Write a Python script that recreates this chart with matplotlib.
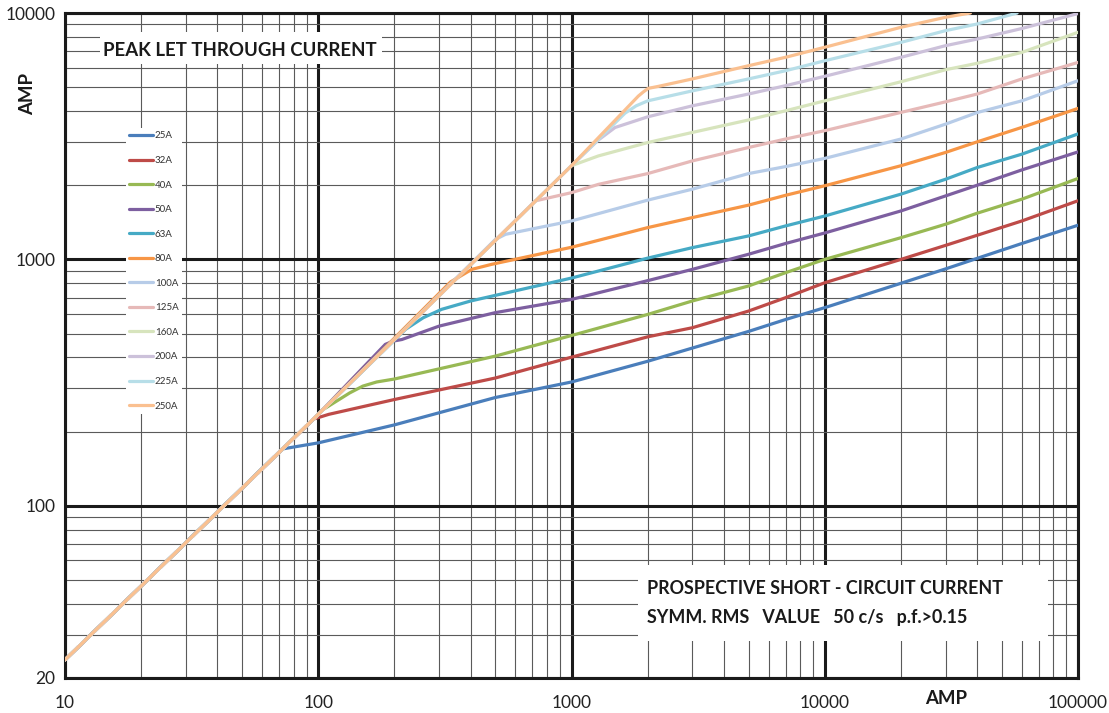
import matplotlib
matplotlib.use('Agg')
import matplotlib.pyplot as plt
from matplotlib.patches import Rectangle
from matplotlib.ticker import LogLocator, NullFormatter

plt.rcParams['font.family'] = ['Lato', 'DejaVu Sans']

W, H = 1109, 713

RATINGS = ['25A', '32A', '40A', '50A', '63A', '80A',
           '100A', '125A', '160A', '200A', '225A', '250A']
COLOURS = ['#4A7EBB', '#BE4B48', '#98B954', '#7D5FA0', '#46AAC5', '#F79646',
           '#B7CCE8', '#E6B9B8', '#D7E4BD', '#CCC1DA', '#B7DEE8', '#FAC090']

# common line every fuse follows until it starts limiting
ENV_X = [10, 100, 1000, 1836]
ENV_Y = [23.7, 235, 2400, 4600]

# each fuse from its cut-off point on
A25_X = [72, 85, 100, 200, 500, 1000, 2000, 5000, 7000, 10000, 20000, 30000, 40000, 60000, 100000]
A25_Y = [170, 175, 180, 213, 275, 318, 386, 510, 570, 637, 800, 915, 1010, 1160, 1376]

A32_X = [96, 110, 200, 500, 1000, 2000, 3000, 5000, 7000, 10000, 20000, 30000, 40000, 60000, 100000]
A32_Y = [225, 235, 270, 330, 401, 485, 528, 617, 699, 804, 1000, 1140, 1253, 1432, 1730]

A40_X = [104, 133, 150, 170, 200, 500, 1000, 2000, 3000, 5000, 7000, 10000, 20000, 30000, 40000, 60000, 100000]
A40_Y = [245, 287, 306, 318, 327, 405, 491, 598, 678, 780, 883, 1000, 1225, 1389, 1540, 1755, 2130]

A50_X = [184, 198, 214, 300, 500, 1000, 2000, 3000, 5000, 7000, 10000, 20000, 30000, 40000, 60000, 100000]
A50_Y = [452, 466, 473, 536, 608, 688, 820, 911, 1049, 1160, 1280, 1573, 1810, 2000, 2307, 2730]

A63_X = [221, 260, 307, 400, 1000, 2000, 3000, 5000, 7000, 10000, 20000, 30000, 40000, 60000, 100000]
A63_Y = [520, 580, 627, 678, 840, 1012, 1116, 1245, 1367, 1500, 1840, 2115, 2360, 2673, 3230]

A80_X = [333, 404, 484, 1000, 2000, 3000, 5000, 7000, 10000, 20000, 30000, 40000, 60000, 100000]
A80_Y = [810, 911, 955, 1120, 1346, 1478, 1660, 1820, 1990, 2400, 2717, 3000, 3433, 4100]

A100_X = [501, 549, 1000, 2000, 3000, 5000, 7000, 10000, 20000, 30000, 40000, 60000, 100000]
A100_Y = [1206, 1264, 1432, 1740, 1927, 2230, 2380, 2570, 3080, 3540, 3945, 4400, 5310]

A125_X = [719, 1000, 1277, 2000, 3000, 5000, 7000, 10000, 20000, 30000, 40000, 60000, 100000]
A125_Y = [1727, 1866, 2016, 2230, 2510, 2845, 3080, 3330, 3950, 4360, 4690, 5400, 6300]

A160_X = [1000, 1277, 2000, 3000, 5000, 7000, 10000, 20000, 30000, 40000, 60000, 100000]
A160_Y = [2400, 2630, 2980, 3275, 3680, 4010, 4400, 5260, 5885, 6250, 6920, 8350]

A200_X = [1276, 1486, 2000, 3000, 5000, 7000, 10000, 20000, 30000, 40000, 60000, 100000]
A200_Y = [3050, 3430, 3790, 4200, 4690, 5070, 5535, 6610, 7370, 7840, 8650, 9950]

A225_X = [1626, 1800, 2000, 3000, 5000, 7000, 10000, 20000, 30000, 40000, 57500]
A225_Y = [3920, 4200, 4400, 4830, 5400, 5830, 6400, 7600, 8480, 9025, 10000]

A250_X = [1920, 2010, 2200, 3000, 5000, 7000, 10000, 20000, 30000, 37600]
A250_Y = [4780, 4945, 5036, 5400, 6110, 6610, 7260, 8750, 9610, 10000]

TAILS = [(A25_X, A25_Y), (A32_X, A32_Y), (A40_X, A40_Y), (A50_X, A50_Y),
         (A63_X, A63_Y), (A80_X, A80_Y), (A100_X, A100_Y), (A125_X, A125_Y),
         (A160_X, A160_Y), (A200_X, A200_Y), (A225_X, A225_Y), (A250_X, A250_Y)]

X_TICKS = [10, 100, 1000, 10000, 100000]
Y_TICKS = [20, 100, 1000, 10000]


def px(x, y):
    # pixel position (from top-left) -> figure fraction
    return x / W, 1 - y / H


fig = plt.figure(figsize=(W / 100, H / 100), dpi=100)
ax = fig.add_axes([65 / W, 35 / H, (1078 - 65) / W, (678 - 13) / H])
ax.set_xscale('log')
ax.set_yscale('log')
ax.set_xlim(10, 100000)
ax.set_ylim(20, 10000)

for (tx, ty), name, c in zip(TAILS, RATINGS, COLOURS):
    xs = [x for x in ENV_X if x < tx[0]] + list(tx)
    ys = [y for x, y in zip(ENV_X, ENV_Y) if x < tx[0]] + list(ty)
    ax.plot(xs, ys, color=c, lw=2.3, label=name, zorder=3,
            solid_joinstyle='round', solid_capstyle='round')

ax.set_xticks(X_TICKS, [str(v) for v in X_TICKS])
ax.set_yticks(Y_TICKS, [str(v) for v in Y_TICKS])
ax.xaxis.set_minor_locator(LogLocator(subs=range(2, 10), numticks=20))
ax.yaxis.set_minor_locator(LogLocator(subs=range(2, 10), numticks=20))
ax.xaxis.set_minor_formatter(NullFormatter())
ax.yaxis.set_minor_formatter(NullFormatter())
ax.tick_params(which='both', length=0)
ax.tick_params(axis='x', pad=12.5, labelsize=12.5, colors='#222222')
ax.tick_params(axis='y', pad=7, labelsize=12.5, colors='#222222')

ax.grid(which='minor', color='#5a5a5a', lw=0.8)
ax.grid(which='major', color='#1a1a1a', lw=2.2)
ax.set_axisbelow(True)
for s in ax.spines.values():
    s.set_linewidth(2.2)
    s.set_color('#1a1a1a')

leg = ax.legend(loc='upper left', bbox_to_anchor=((126 - 65) / 1013, (678 - 128) / 665),
                borderaxespad=0, fontsize=7, frameon=True, fancybox=False,
                framealpha=1, edgecolor='none', facecolor='white',
                handlelength=2.4, handletextpad=0.2, labelspacing=1.6,
                borderpad=0.35)
leg.set_zorder(5)
for t in leg.get_texts():
    t.set_color('#333333')

# text boxes
ax.add_patch(Rectangle(px(100, 64), 282 / W, 32 / H, transform=fig.transFigure,
                       facecolor='white', edgecolor='none', zorder=6))
fig.text(*px(240, 50), 'PEAK LET THROUGH CURRENT', ha='center', va='center',
         fontsize=13.4, fontweight='bold', color='#1a1a1a', zorder=7)

ax.add_patch(Rectangle(px(638, 641), 410 / W, 76 / H, transform=fig.transFigure,
                       facecolor='white', edgecolor='none', zorder=6))
fig.text(*px(647, 589), 'PROSPECTIVE SHORT - CIRCUIT CURRENT', ha='left', va='center',
         fontsize=12.9, fontweight='bold', color='#1a1a1a', zorder=7)
fig.text(*px(647, 617), 'SYMM. RMS   VALUE   50 c/s   p.f.>0.15', ha='left', va='center',
         fontsize=12.9, fontweight='bold', color='#1a1a1a', zorder=7)

fig.text(*px(28, 94), 'AMP', rotation=90, ha='center', va='center',
         fontsize=13.4, fontweight='bold', color='#1a1a1a')
fig.text(*px(946, 699), 'AMP', ha='center', va='center',
         fontsize=13.4, fontweight='bold', color='#1a1a1a')

fig.savefig('out.png', dpi=100, facecolor='white')
